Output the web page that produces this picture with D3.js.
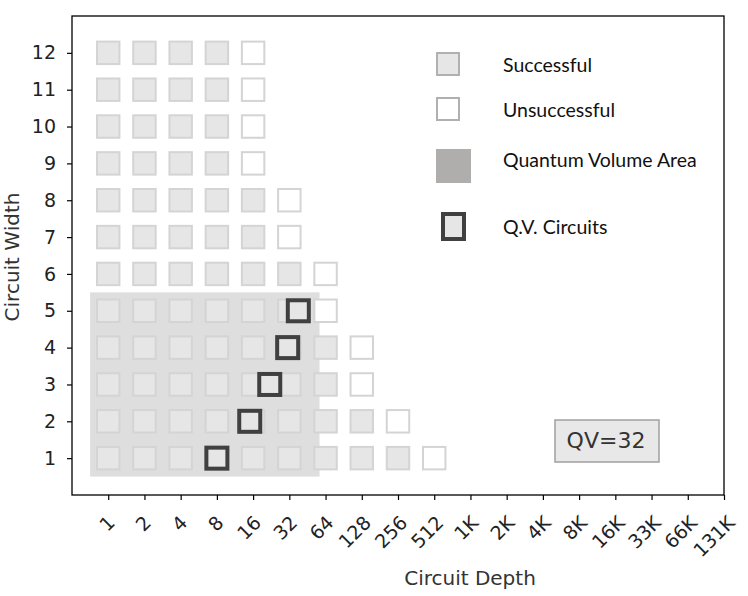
<!DOCTYPE html>
<html>
<head>
<meta charset="utf-8">
<script src="https://cdn.jsdelivr.net/npm/d3@7"></script>
<style>
  body { margin: 0; background: #fff; }
  svg { display: block; }
  .axis text { font-family: "DejaVu Sans", sans-serif; font-size: 19px; fill: #222; }
  .axis path, .axis line { stroke: #000; stroke-width: 1.2; }
  .title { font-family: "DejaVu Sans", sans-serif; font-size: 20px; fill: #333; }
  .legend text { font-family: Lato, "Open Sans", sans-serif; font-size: 19.5px; fill: #111; }
</style>
</head>
<body>
<div id="chart"></div>
<script>
// tick labels on the depth axis (log2 steps)
var depthLabels = ["1", "2", "4", "8", "16", "32", "64", "128", "256", "512",
                   "1K", "2K", "4K", "8K", "16K", "33K", "66K", "131K"];
var widths = [1, 2, 3, 4, 5, 6, 7, 8, 9, 10, 11, 12];
// per width: deepest successful depth, and the first failed depth
var lastSuccessDepth = [256, 128, 64, 64, 32, 32, 16, 16, 8, 8, 8, 8];
var firstFailDepth = [512, 256, 128, 128, 64, 64, 32, 32, 16, 16, 16, 16];
// QV circuits actually run (width, depth)
var qvWidths = [1, 2, 3, 4, 5];
var qvDepths = [8, 15, 22, 31, 38];
// quantum volume area extent
var qvAreaDepth = [0.707, 57];
var qvAreaWidth = [0.5, 5.5];
var qvText = "QV=32";
var legendLabels = ["Successful", "Unsuccessful", "Quantum Volume Area", "Q.V. Circuits"];

(function () {
	var W = 748, H = 596;
	var margin = {left: 72, right: 724, top: 16, bottom: 495};

	var svg = d3.select("#chart").append("svg")
		.attr("width", W)
		.attr("height", H);

	var x = d3.scaleLinear().domain([-1, 17]).range([margin.left, margin.right]);
	var y = d3.scaleLinear().domain([0, 13]).range([margin.bottom, margin.top]);
	function xd(depth) { return x(Math.log2(depth)); }

	var step = x(1) - x(0);
	var cell = step * 0.62;
	var qvCell = step * 0.58;

	// quantum volume area
	svg.append("rect")
		.attr("x", xd(qvAreaDepth[0]))
		.attr("y", y(qvAreaWidth[1]))
		.attr("width", xd(qvAreaDepth[1]) - xd(qvAreaDepth[0]))
		.attr("height", y(qvAreaWidth[0]) - y(qvAreaWidth[1]))
		.attr("fill", "#dedede");

	// build cells from the per-width arrays
	var cells = [];
	widths.forEach(function (w, i) {
		for (var d = 1; d <= lastSuccessDepth[i]; d *= 2) {
			cells.push({w: w, depth: d, ok: true});
		}
		cells.push({w: w, depth: firstFailDepth[i], ok: false});
	});

	svg.append("g").selectAll("rect")
		.data(cells)
		.enter().append("rect")
		.attr("x", function (d) { return xd(d.depth) - cell / 2; })
		.attr("y", function (d) { return y(d.w) - cell / 2; })
		.attr("width", cell)
		.attr("height", cell)
		.attr("fill", function (d) { return d.ok ? "#e6e6e6" : "#fff"; })
		.attr("stroke", "#d4d4d4")
		.attr("stroke-width", 2);

	// QV circuits
	svg.append("g").selectAll("rect")
		.data(qvWidths)
		.enter().append("rect")
		.attr("x", function (w, i) { return xd(qvDepths[i]) - qvCell / 2; })
		.attr("y", function (w) { return y(w) - qvCell / 2; })
		.attr("width", qvCell)
		.attr("height", qvCell)
		.attr("fill", "#e6e6e6")
		.attr("stroke", "#404040")
		.attr("stroke-width", 4);

	// axes
	var xAxis = d3.axisBottom(x)
		.tickValues(d3.range(depthLabels.length))
		.tickFormat(function (i) { return depthLabels[i]; })
		.tickSize(5);
	var gx = svg.append("g")
		.attr("class", "axis")
		.attr("transform", "translate(0," + margin.bottom + ")")
		.call(xAxis);
	gx.select(".domain").remove();
	gx.selectAll("text").each(function (i) {
		var t = d3.select(this);
		t.attr("y", null).attr("dy", null)
			.attr("text-anchor", "middle")
			.attr("dominant-baseline", "central");
		var L = this.getComputedTextLength();
		var half = (L + 14) * 0.3536;
		var dx = 1 - 0.24 * L;
		var cy = 19 + half;
		t.attr("transform", "translate(" + dx + "," + cy + ") rotate(-45)");
	});

	var yAxis = d3.axisLeft(y).tickValues(widths).tickSize(5).tickPadding(11);
	var gy = svg.append("g")
		.attr("class", "axis")
		.attr("transform", "translate(" + margin.left + ",0)")
		.call(yAxis);
	gy.select(".domain").remove();

	// frame
	svg.append("rect")
		.attr("x", margin.left).attr("y", margin.top)
		.attr("width", margin.right - margin.left).attr("height", margin.bottom - margin.top)
		.attr("fill", "none")
		.attr("stroke", "#000")
		.attr("stroke-width", 1.3);

	// axis titles
	svg.append("text").attr("class", "title")
		.attr("x", 470).attr("y", 585)
		.attr("text-anchor", "middle")
		.text("Circuit Depth");
	svg.append("text").attr("class", "title")
		.attr("transform", "translate(19,257) rotate(-90)")
		.attr("text-anchor", "middle")
		.text("Circuit Width");

	// QV label box
	var qv = svg.append("g");
	qv.append("rect")
		.attr("x", 555).attr("y", 420).attr("width", 104).attr("height", 42)
		.attr("fill", "#e8e8e8").attr("stroke", "#a0a0a0").attr("stroke-width", 1.5);
	qv.append("text")
		.attr("x", 606).attr("y", 448)
		.attr("text-anchor", "middle")
		.style("font-family", "DejaVu Sans, sans-serif")
		.style("font-size", "22px")
		.style("fill", "#333")
		.text(qvText);

	// legend
	var lg = svg.append("g").attr("class", "legend");
	lg.append("rect").attr("x", 437).attr("y", 53).attr("width", 22).attr("height", 22)
		.attr("fill", "#e6e6e6").attr("stroke", "#b0b0b0").attr("stroke-width", 2);
	lg.append("rect").attr("x", 437).attr("y", 98).attr("width", 22).attr("height", 22)
		.attr("fill", "#fff").attr("stroke", "#b0b0b0").attr("stroke-width", 2);
	lg.append("rect").attr("x", 436).attr("y", 149).attr("width", 35).attr("height", 34)
		.attr("fill", "#b0adad");
	lg.append("rect").attr("x", 443).attr("y", 214).attr("width", 21).attr("height", 25)
		.attr("fill", "#e6e6e6").attr("stroke", "#404040").attr("stroke-width", 4);
	var legendY = [72, 117, 167, 234];
	legendLabels.forEach(function (l, i) {
		lg.append("text").attr("x", 503).attr("y", legendY[i]).text(l);
	});
})();
</script>
</body>
</html>
